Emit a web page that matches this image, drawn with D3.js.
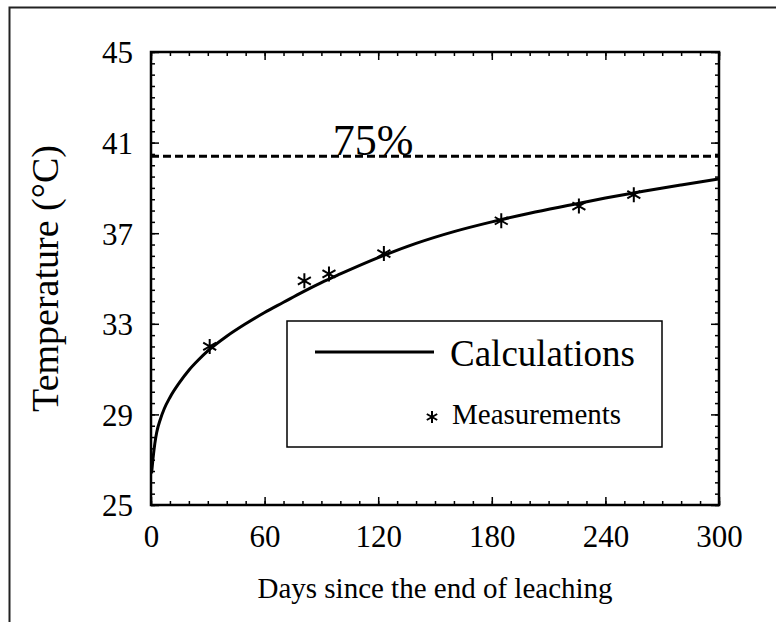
<!DOCTYPE html>
<html lang="en">
<head>
    <meta charset="UTF-8">
    <title>Temperature after leaching</title>
    <script src="https://cdn.jsdelivr.net/npm/d3@7"></script>
    <style>
        body { margin: 0; background: #fff; }
        text { font-family: "Liberation Serif", "Times New Roman", serif; fill: #000; }
    </style>
</head>
<body>
<script>
    // calculated curve
    var calcDays = [0.3, 1, 2, 3, 5, 7, 10, 15, 20, 25, 30, 40, 50, 60, 70, 80, 90, 100, 120, 140, 160, 180, 200, 220, 240, 260, 280, 300];
    var calcTemp = [26.4, 27.0, 27.7, 28.2, 28.8, 29.25, 29.75, 30.4, 30.95, 31.4, 31.8, 32.45, 33.0, 33.5, 33.95, 34.4, 34.82, 35.2, 35.92, 36.55, 37.07, 37.5, 37.88, 38.22, 38.55, 38.85, 39.13, 39.4];

    // measured points
    var measDays = [31, 81, 94, 123, 185, 226, 255];
    var measTemp = [32.0, 34.9, 35.2, 36.1, 37.55, 38.2, 38.7];

    var thresholdTemp = 40.4;
    var thresholdLabel = "75%";

    var xTicks = [0, 60, 120, 180, 240, 300];
    var yTicks = [25, 29, 33, 37, 41, 45];

    var width = 776, height = 622;
    var margin = {left: 151, top: 52, right: 57, bottom: 117};
    var plotW = width - margin.left - margin.right;
    var plotH = height - margin.top - margin.bottom;

    var svg = d3.select("body").append("svg")
        .attr("width", width)
        .attr("height", height);

    // outer frame (only left and top edges are visible)
    svg.append("path")
        .attr("d", "M9.5,622 L9.5,7.5 L776,7.5")
        .attr("fill", "none")
        .attr("stroke", "#222")
        .attr("stroke-width", 2);

    var g = svg.append("g")
        .attr("transform", "translate(" + margin.left + "," + margin.top + ")");

    var x = d3.scaleLinear().domain([0, 300]).range([0, plotW]);
    var y = d3.scaleLinear().domain([25, 45]).range([plotH, 0]);

    var xMinor = d3.range(0, 301, 10);
    var yMinor = d3.range(25, 45.01, 0.5);

    // ticks point inwards on all four sides
    function addAxis(axis, tr, labels) {
        var a = g.append("g").attr("transform", tr).call(axis);
        a.select(".domain").remove();
        a.selectAll("line").attr("stroke", "#000").attr("stroke-width", 1.5);
        if (!labels) a.selectAll("text").remove();
        return a;
    }

    addAxis(d3.axisBottom(x).tickValues(xMinor).tickSize(-4), "translate(0," + plotH + ")", false);
    addAxis(d3.axisTop(x).tickValues(xMinor).tickSize(-4), "translate(0,0)", false);
    addAxis(d3.axisLeft(y).tickValues(yMinor).tickSize(-4), "translate(0,0)", false);
    addAxis(d3.axisRight(y).tickValues(yMinor).tickSize(-4), "translate(" + plotW + ",0)", false);

    var gx = addAxis(d3.axisBottom(x).tickValues(xTicks).tickSize(-8).tickPadding(20), "translate(0," + plotH + ")", true);
    addAxis(d3.axisTop(x).tickValues(xTicks).tickSize(-8), "translate(0,0)", false);
    var gy = addAxis(d3.axisLeft(y).tickValues(yTicks).tickSize(-8).tickPadding(18), "translate(0,0)", true);
    addAxis(d3.axisRight(y).tickValues(yTicks).tickSize(-8), "translate(" + plotW + ",0)", false);

    gx.selectAll("text").attr("font-size", "31px").attr("font-family", "Liberation Serif").attr("dy", "0.72em");
    gy.selectAll("text").attr("font-size", "31px").attr("font-family", "Liberation Serif").attr("dy", "0.35em");

    // plot frame
    g.append("rect")
        .attr("width", plotW)
        .attr("height", plotH)
        .attr("fill", "none")
        .attr("stroke", "#000")
        .attr("stroke-width", 2.5);

    // 75% line
    g.append("line")
        .attr("x1", 0).attr("x2", plotW)
        .attr("y1", y(thresholdTemp)).attr("y2", y(thresholdTemp))
        .attr("stroke", "#000")
        .attr("stroke-width", 3)
        .attr("stroke-dasharray", "8,4");

    g.append("text")
        .attr("x", x(96))
        .attr("y", y(thresholdTemp) - 1)
        .attr("font-size", "44px")
        .text(thresholdLabel);

    // calculated curve
    var calc = calcDays.map(function (d, i) { return [d, calcTemp[i]]; });
    var line = d3.line()
        .x(function (d) { return x(d[0]); })
        .y(function (d) { return y(d[1]); })
        .curve(d3.curveMonotoneX);

    g.append("path")
        .datum(calc)
        .attr("d", line)
        .attr("fill", "none")
        .attr("stroke", "#000")
        .attr("stroke-width", 3);

    // six-armed asterisk
    var asterisk = {
        draw: function (ctx, size) {
            var r = Math.sqrt(size) / 2;
            var t = r / 2, u = t * Math.sqrt(3);
            ctx.moveTo(0, r); ctx.lineTo(0, -r);
            ctx.moveTo(-u, -t); ctx.lineTo(u, t);
            ctx.moveTo(-u, t); ctx.lineTo(u, -t);
        }
    };
    var star = d3.symbol().type(asterisk).size(225);

    g.selectAll(".meas")
        .data(measDays)
        .enter()
        .append("path")
        .attr("class", "meas")
        .attr("transform", function (d, i) {
            return "translate(" + x(d) + "," + y(measTemp[i]) + ")";
        })
        .attr("d", star)
        .attr("fill", "none")
        .attr("stroke", "#000")
        .attr("stroke-width", 2);

    // legend
    var lg = svg.append("g").attr("transform", "translate(287,321)");
    lg.append("rect")
        .attr("width", 375).attr("height", 126)
        .attr("fill", "#fff")
        .attr("stroke", "#000")
        .attr("stroke-width", 1.5);
    lg.append("line")
        .attr("x1", 28).attr("x2", 147)
        .attr("y1", 31).attr("y2", 31)
        .attr("stroke", "#000")
        .attr("stroke-width", 3);
    lg.append("text")
        .attr("x", 163).attr("y", 45)
        .attr("font-size", "37px")
        .text("Calculations");
    lg.append("path")
        .attr("transform", "translate(145,96)")
        .attr("d", d3.symbol().type(asterisk).size(144))
        .attr("fill", "none")
        .attr("stroke", "#000")
        .attr("stroke-width", 2);
    lg.append("text")
        .attr("x", 165).attr("y", 103)
        .attr("font-size", "29px")
        .text("Measurements");

    // axis titles
    svg.append("text")
        .attr("x", margin.left + plotW / 2)
        .attr("y", 598)
        .attr("text-anchor", "middle")
        .attr("font-size", "29px")
        .text("Days since the end of leaching");

    svg.append("text")
        .attr("transform", "translate(58," + (margin.top + plotH / 2) + ") rotate(-90)")
        .attr("text-anchor", "middle")
        .attr("font-size", "38px")
        .text("Temperature (°C)");
</script>
</body>
</html>
